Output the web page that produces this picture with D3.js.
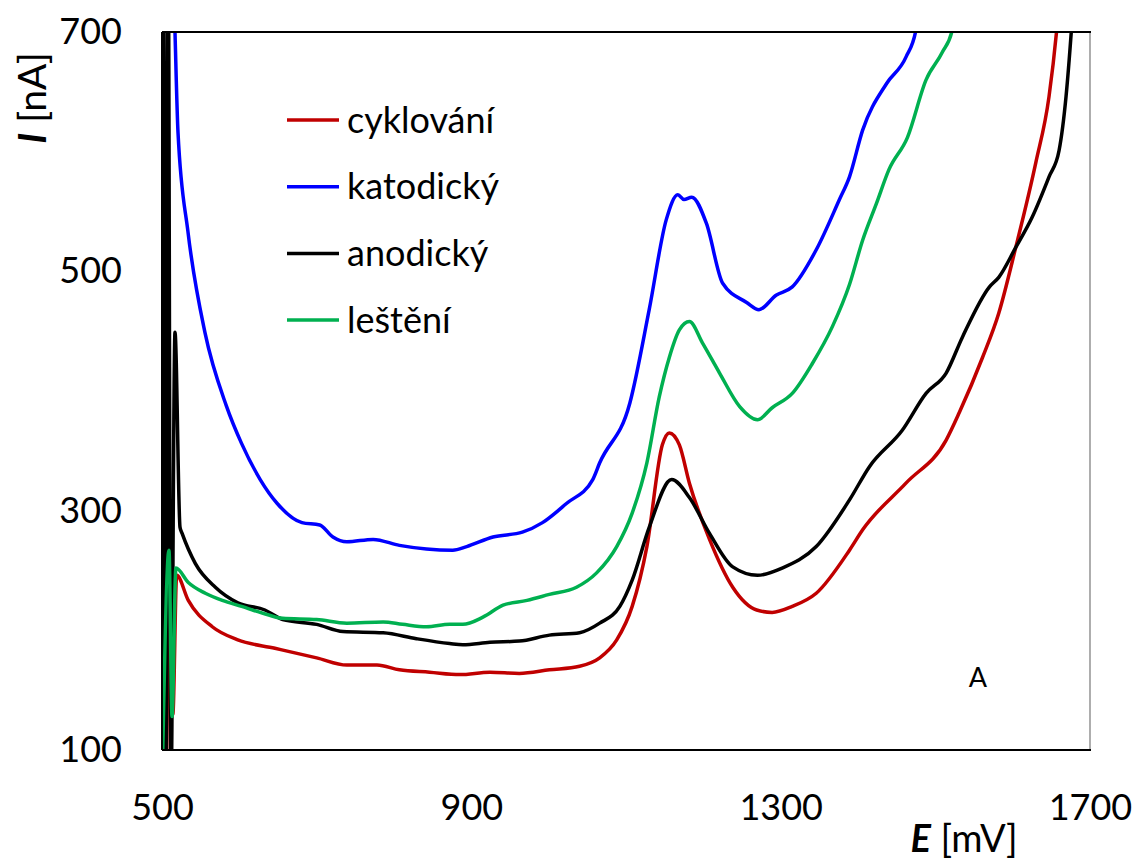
<!DOCTYPE html>
<html>
<head>
<meta charset="utf-8">
<script src="https://cdn.jsdelivr.net/npm/d3@7"></script>
<style>
  body { margin: 0; background: #fff; }
  svg text { font-family: Lato, "Open Sans", sans-serif; fill: #000; }
</style>
</head>
<body>
<svg width="1137" height="864"></svg>
<script>
// series names (legend order) and colours
var seriesNames = ["cyklování", "katodický", "anodický", "leštění"];
var seriesColors = ["#C00000", "#0000FF", "#000000", "#00B050"];

var xTicks = [500, 900, 1300, 1700];
var yTicks = [100, 300, 500, 700];

// [E mV, I nA]
var cyklovani = [
  [506, 100], [510, 250], [514, 130], [519, 246], [534, 225], [565, 203], [598, 192], [646, 185],
  [700, 177], [739, 171], [778, 171], [807, 167], [846, 165], [885, 163], [924, 165],
  [962, 164], [1001, 167], [1040, 170], [1066, 177], [1088, 192], [1108, 220], [1127, 270],
  [1147, 355], [1156, 365], [1169, 355], [1182, 323], [1208, 276], [1238, 236], [1269, 217],
  [1289, 215], [1315, 220], [1346, 231], [1389, 267], [1406, 284], [1462, 323], [1514, 359],
  [1531, 382], [1561, 428], [1582, 465], [1604, 520], [1630, 591], [1647, 646], [1657, 702],
  [1662, 740]
];

var katodicky = [
  [500.5, 60], [501.5, 420], [513.5, 780], [516.8, 700], [520.7, 616], [533.6, 533], [555.5, 449],
  [583, 388], [603, 356], [627, 326], [649, 306], [681, 290], [704, 288], [721, 278],
  [739, 274], [773, 276], [807, 271], [842, 268], [876, 267], [894, 270], [928, 278],
  [966, 282], [992, 290], [1023, 306], [1057, 326], [1066, 340], [1105, 390], [1130, 468],
  [1152, 543], [1167, 564], [1175, 560], [1185, 562], [1204, 540], [1225, 490], [1256, 474],
  [1272, 468], [1294, 480], [1315, 487], [1346, 518], [1376, 560], [1389, 579], [1406, 618],
  [1437, 657], [1462, 679], [1475, 702], [1480, 730]
];

var anodicky = [
  [500, 60], [502, 780], [505, 60], [508, 780], [511.5, 60], [516.8, 449], [523.3, 286],
  [526, 281], [543, 256], [569, 236], [598, 223], [633, 217], [656, 209], [700, 205],
  [734, 199], [786, 198], [829, 193], [872, 189], [889, 188], [924, 190], [962, 191],
  [1001, 196], [1040, 198], [1066, 206], [1092, 220], [1108, 242], [1130, 286], [1159, 326],
  [1182, 311], [1208, 281], [1238, 253], [1270, 246], [1302, 252], [1346, 270], [1389, 309],
  [1415, 337], [1457, 367], [1488, 398], [1514, 415], [1535, 445], [1570, 487], [1582, 495],
  [1604, 520], [1625, 545], [1647, 579], [1660, 601], [1669, 646], [1676, 702], [1680, 740]
];

var lesteni = [
  [501, 100], [509, 267], [513, 128], [518, 252], [534, 240], [556, 231], [578, 225], [603, 220],
  [637, 213], [656, 210], [700, 209], [739, 206], [786, 207], [811, 205], [842, 203],
  [872, 205], [889, 205], [915, 211], [941, 221], [972, 225], [1001, 230], [1036, 236],
  [1062, 248], [1088, 270], [1108, 298], [1127, 340], [1143, 395], [1156, 428], [1169, 451],
  [1182, 458], [1199, 440], [1221, 415], [1247, 387], [1270, 376], [1289, 386], [1315, 398],
  [1341, 423], [1367, 454], [1389, 489], [1406, 526], [1424, 557], [1440, 585], [1464, 612],
  [1488, 660], [1509, 683], [1522, 702], [1528, 730]
];

var allSeries = [cyklovani, katodicky, anodicky, lesteni];

var svg = d3.select("svg");
var margin = {left: 162, top: 32, right: 1090, bottom: 750};

var x = d3.scaleLinear().domain([500, 1700]).range([margin.left, margin.right]);
var y = d3.scaleLinear().domain([100, 700]).range([margin.bottom, margin.top]);

svg.append("clipPath").attr("id", "plotclip")
  .append("rect")
    .attr("x", margin.left).attr("y", margin.top)
    .attr("width", margin.right - margin.left)
    .attr("height", margin.bottom - margin.top);

// frame
svg.append("line")
  .attr("x1", margin.right).attr("x2", margin.right)
  .attr("y1", margin.top).attr("y2", margin.bottom)
  .attr("stroke", "#777").attr("stroke-width", 1.2);

var line = d3.line()
  .x(function(d) { return x(d[0]); })
  .y(function(d) { return y(d[1]); })
  .curve(d3.curveMonotoneX);

svg.append("g")
    .attr("clip-path", "url(#plotclip)")
  .selectAll("path")
  .data(allSeries)
  .enter().append("path")
    .attr("d", line)
    .attr("fill", "none")
    .attr("stroke", function(d, i) { return seriesColors[i]; })
    .attr("stroke-width", 3.5)
    .attr("stroke-linejoin", "round");

svg.append("line")
  .attr("x1", margin.left).attr("x2", margin.right + 1)
  .attr("y1", margin.top).attr("y2", margin.top)
  .attr("stroke", "#000").attr("stroke-width", 2);
svg.append("line")
  .attr("x1", margin.left).attr("x2", margin.right + 1)
  .attr("y1", margin.bottom).attr("y2", margin.bottom)
  .attr("stroke", "#000").attr("stroke-width", 2);
svg.append("line")
  .attr("x1", margin.left).attr("x2", margin.left)
  .attr("y1", margin.top).attr("y2", margin.bottom)
  .attr("stroke", "#000").attr("stroke-width", 2);

// axes (labels only)
var xAxis = svg.append("g")
  .attr("transform", "translate(0," + margin.bottom + ")")
  .call(d3.axisBottom(x).tickValues(xTicks).tickFormat(d3.format("d")).tickSize(0).tickPadding(44));
xAxis.select(".domain").remove();
xAxis.selectAll("text").style("font-size", "36px").style("font-family", "Lato, sans-serif");

var yAxis = svg.append("g")
  .attr("transform", "translate(" + margin.left + ",0)")
  .call(d3.axisLeft(y).tickValues(yTicks).tickFormat(d3.format("d")).tickSize(0).tickPadding(40));
yAxis.select(".domain").remove();
yAxis.selectAll("text").style("font-size", "36px").style("font-family", "Lato, sans-serif");

// axis titles
var yt = svg.append("text")
  .attr("transform", "translate(46,98) rotate(-90)")
  .attr("text-anchor", "middle")
  .style("font-size", "39px");
yt.append("tspan").style("font-weight", "bold").style("font-style", "italic").text("I");
yt.append("tspan").text(" [nA]");

var xt = svg.append("text")
  .attr("x", 964).attr("y", 852)
  .attr("text-anchor", "middle")
  .style("font-size", "38px");
xt.append("tspan").style("font-weight", "bold").style("font-style", "italic").text("E");
xt.append("tspan").text(" [mV]");

// legend
var legend = svg.append("g").selectAll("g")
  .data(seriesNames)
  .enter().append("g")
    .attr("transform", function(d, i) { return "translate(287," + (120 + i * 66.7) + ")"; });

legend.append("line")
  .attr("x1", 0).attr("x2", 52)
  .attr("stroke", function(d, i) { return seriesColors[i]; })
  .attr("stroke-width", 3.5);

legend.append("text")
  .attr("x", 60).attr("y", 0)
  .attr("dy", "0.35em")
  .style("font-size", "36px")
  .text(function(d) { return d; });

svg.append("text")
  .attr("x", 978).attr("y", 678)
  .attr("dy", "0.35em")
  .attr("text-anchor", "middle")
  .style("font-size", "27px")
  .text("A");
</script>
</body>
</html>
